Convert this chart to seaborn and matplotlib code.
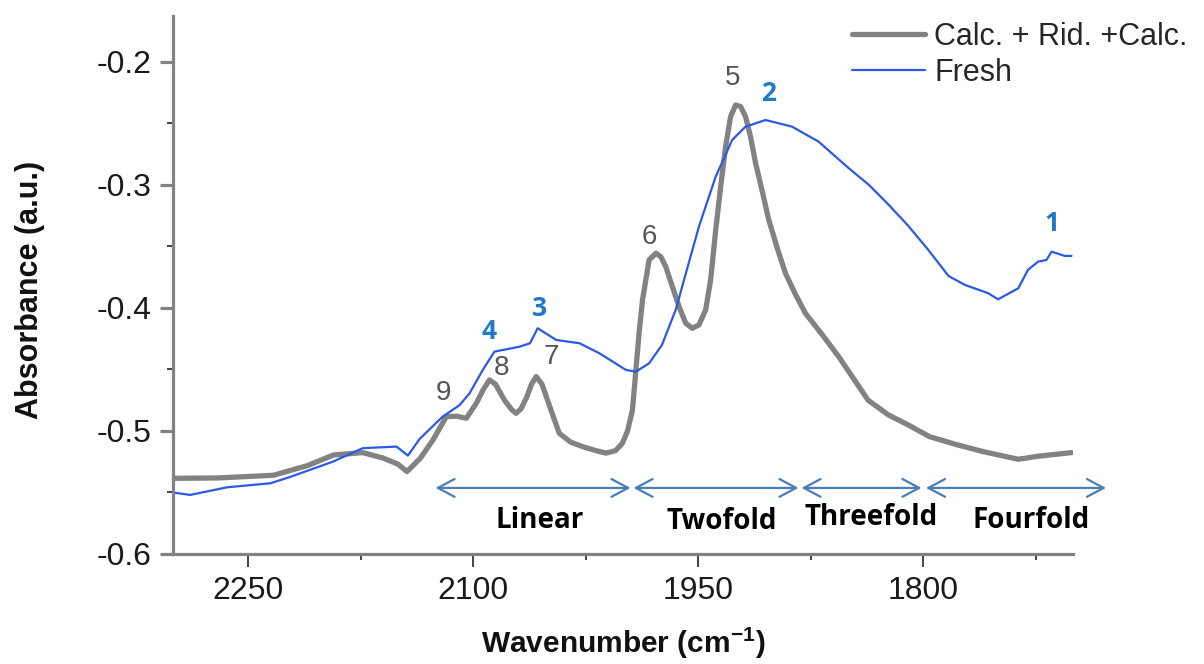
import numpy as np
import pandas as pd
import matplotlib
matplotlib.use("Agg")
import matplotlib.pyplot as plt
import seaborn as sns

# --- spectra (wavenumber in cm^-1, absorbance in a.u.) ---
calc_wn = [2300, 2270, 2233, 2210, 2193, 2173.5, 2160, 2150, 2144, 2135, 2126.7,
           2117.8, 2111, 2104.5, 2097.8, 2093, 2089, 2085, 2079, 2074, 2071.3,
           2068, 2064, 2061, 2057.9, 2054, 2050, 2046, 2042.5, 2035, 2027, 2018,
           2011.4, 2005, 2000.4, 1997, 1993.7, 1989.3, 1987, 1984.8, 1982.6,
           1978.1, 1974.8, 1971.5, 1967.1, 1962.6, 1958.2, 1953.8, 1949.4, 1944.9,
           1941.6, 1938.2, 1934.9, 1931.6, 1928.3, 1924.9, 1921.6, 1918.3, 1915,
           1911.6, 1907, 1902.8, 1897, 1891.7, 1885, 1878.4, 1867, 1856.2, 1846,
           1836.6, 1823, 1810, 1795.7, 1778, 1759.8, 1736.5, 1723, 1701]
calc_abs = [-0.5385, -0.5382, -0.536, -0.528, -0.5195, -0.5176, -0.522, -0.527,
            -0.533, -0.522, -0.5073, -0.4884, -0.488, -0.4897, -0.4775, -0.466,
            -0.4585, -0.462, -0.475, -0.483, -0.4856, -0.482, -0.472, -0.462,
            -0.4558, -0.462, -0.476, -0.490, -0.5019, -0.509, -0.5127, -0.516,
            -0.518, -0.516, -0.510, -0.500, -0.483, -0.4206, -0.3935, -0.3772,
            -0.361, -0.3555, -0.3583, -0.3664, -0.3827, -0.399, -0.4124, -0.4165,
            -0.4138, -0.4016, -0.3772, -0.3366, -0.3014, -0.2689, -0.2445, -0.235,
            -0.2363, -0.2445, -0.2607, -0.2824, -0.306, -0.3285, -0.352, -0.3718,
            -0.389, -0.4043, -0.422, -0.4396, -0.458, -0.475, -0.487, -0.495,
            -0.5046, -0.511, -0.5168, -0.523, -0.5205, -0.5176]

fresh_wn = [2300, 2288.6, 2264, 2235, 2222, 2193.5, 2173.5, 2151, 2143.4, 2135.6,
            2120.3, 2109, 2102.3, 2093.5, 2085.7, 2069, 2062, 2056.9, 2044.6, 2029,
            2015.8, 1998, 1991.4, 1982.6, 1974, 1964.9, 1949.4, 1938.2, 1927.2,
            1918.3, 1905, 1887.3, 1869.6, 1849.5, 1836, 1823, 1810, 1797, 1783,
            1772, 1756.5, 1750, 1736.5, 1730, 1723.2, 1717.7, 1714.3, 1705.5, 1701]
fresh_abs = [-0.550, -0.552, -0.5458, -0.5425, -0.5374, -0.525, -0.514, -0.5127,
             -0.520, -0.5065, -0.4884, -0.479, -0.4694, -0.4504, -0.4355, -0.4315,
             -0.4287, -0.4165, -0.426, -0.4287, -0.4368, -0.4504, -0.4518, -0.445,
             -0.430, -0.4016, -0.3339, -0.2932, -0.2634, -0.2526, -0.2472, -0.2526,
             -0.2648, -0.2864, -0.300, -0.316, -0.333, -0.352, -0.374, -0.3813,
             -0.388, -0.393, -0.384, -0.369, -0.3623, -0.361, -0.3542, -0.3577,
             -0.3577]

series_names = ["Calc. + Rid. +Calc.", "Fresh"]

# --- peak numbering ---
calc_peak_labels = ["5", "6", "7", "8", "9"]
calc_peak_wn = [1927, 1982.6, 2048, 2081.3, 2120]
calc_peak_abs = [-0.213, -0.342, -0.4396, -0.449, -0.4694]

fresh_peak_labels = ["1", "2", "3", "4"]
fresh_peak_wn = [1714.3, 1902.8, 2055.8, 2089]
fresh_peak_abs = [-0.331, -0.2255, -0.4003, -0.4193]

# --- CO adsorption-mode regions ---
region_names = ["Linear", "Twofold", "Threefold", "Fourfold"]
region_start = [2125, 1993, 1881, 1798]
region_end = [1995, 1883, 1801, 1678]
region_label_wn = [2055.8, 1934, 1834.3, 1728]
region_label_abs = [-0.5724, -0.574, -0.5707, -0.5724]
region_arrow_abs = -0.5463

x_ticks = [2250, 2100, 1950, 1800]
y_ticks = [-0.6, -0.5, -0.4, -0.3, -0.2]

# --- styling ---
sns.set_style("ticks")
plt.rcParams["font.family"] = ["Liberation Sans", "DejaVu Sans"]
plt.rcParams["axes.unicode_minus"] = False
plt.rcParams["mathtext.fontset"] = "custom"
plt.rcParams["mathtext.rm"] = "Liberation Sans:bold"
plt.rcParams["mathtext.bf"] = "Liberation Sans:bold"

GRAY = "#828282"
BLUE = "#2a5ae6"
ARROW = "#4a7ebb"
NUM_GRAY = "#555555"
NUM_BLUE = "#1f78c8"

fig = plt.figure(figsize=(12.04, 6.64), dpi=100)
ax = fig.add_axes([0.1437, 0.1657, 0.7475, 0.8103])

calc_df = pd.DataFrame({"wavenumber": calc_wn, "absorbance": calc_abs})
fresh_df = pd.DataFrame({"wavenumber": fresh_wn, "absorbance": fresh_abs})

sns.lineplot(data=calc_df, x="wavenumber", y="absorbance", ax=ax, sort=False,
             estimator=None, color=GRAY, lw=3.8, label=series_names[0],
             solid_joinstyle="round", solid_capstyle="round")
sns.lineplot(data=fresh_df, x="wavenumber", y="absorbance", ax=ax, sort=False,
             estimator=None, color=BLUE, lw=1.6, label=series_names[1],
             solid_joinstyle="round")

ax.set_xlim(2300, 1700)
ax.set_ylim(-0.6, -0.1626)
ax.set_xticks(x_ticks)
ax.set_xticks([2175, 2025, 1875, 1725], minor=True)
ax.set_yticks(y_ticks)
ax.set_yticks([-0.55, -0.45, -0.35, -0.25], minor=True)
ax.set_yticklabels([f"{v:.1f}" for v in y_ticks])
ax.set_xticklabels([str(v) for v in x_ticks])

sns.despine(ax=ax)
for side in ("left", "bottom"):
    ax.spines[side].set_color(GRAY)
    ax.spines[side].set_linewidth(2.3)

ax.tick_params(axis="y", which="major", length=9.5, width=2.3, color=GRAY,
               labelsize=23, pad=6, labelcolor="#1a1a1a")
ax.tick_params(axis="y", which="minor", length=4, width=1.2, color="#222222")
ax.tick_params(axis="x", which="major", length=9.5, width=1.2, color="#222222",
               labelsize=23, pad=6, labelcolor="#1a1a1a")
ax.tick_params(axis="x", which="minor", length=4.5, width=1.2, color="#222222")

ax.set_xlabel(r"Wavenumber (cm$^{\mathbf{-1}}$)", fontsize=21.5, fontweight="bold",
              va="center", color="#111111")
ax.xaxis.set_label_coords(0.5, -0.166)
ax.set_ylabel("Absorbance (a.u.)", fontsize=22, fontweight="bold",
              va="center", color="#111111")
ax.yaxis.set_label_coords(-0.159, 0.49)

# peak numbers
for lab, x, y in zip(calc_peak_labels, calc_peak_wn, calc_peak_abs):
    ax.text(x, y, lab, color=NUM_GRAY, fontsize=20, ha="center", va="center")
for lab, x, y in zip(fresh_peak_labels, fresh_peak_wn, fresh_peak_abs):
    ax.text(x, y, lab, color=NUM_BLUE, fontsize=19, fontweight="bold",
            family=["Open Sans", "DejaVu Sans"], ha="center", va="center")

# adsorption-mode ranges
for name, x0, x1, lx, ly in zip(region_names, region_start, region_end,
                                region_label_wn, region_label_abs):
    ax.annotate("", xy=(x1, region_arrow_abs), xytext=(x0, region_arrow_abs),
                arrowprops=dict(arrowstyle="<->,head_length=0.6,head_width=0.32",
                                color=ARROW, lw=1.6, shrinkA=0, shrinkB=0,
                                mutation_scale=20),
                annotation_clip=False)
    ax.text(lx, ly, name, fontsize=20, fontweight="bold",
            family=["Open Sans", "DejaVu Sans"], ha="center", va="center",
            color="#000000", clip_on=False)

handles, labels = ax.get_legend_handles_labels()
ax.get_legend().remove()
fig.legend(handles, labels, loc="upper left",
           bbox_to_anchor=(852 / 1204, 1 - 22 / 664),
           bbox_transform=fig.transFigure, frameon=False, borderpad=0,
           borderaxespad=0, handlelength=2.4, handletextpad=0.3,
           labelspacing=0.2, fontsize=22)

fig.savefig("out.png", dpi=100)
